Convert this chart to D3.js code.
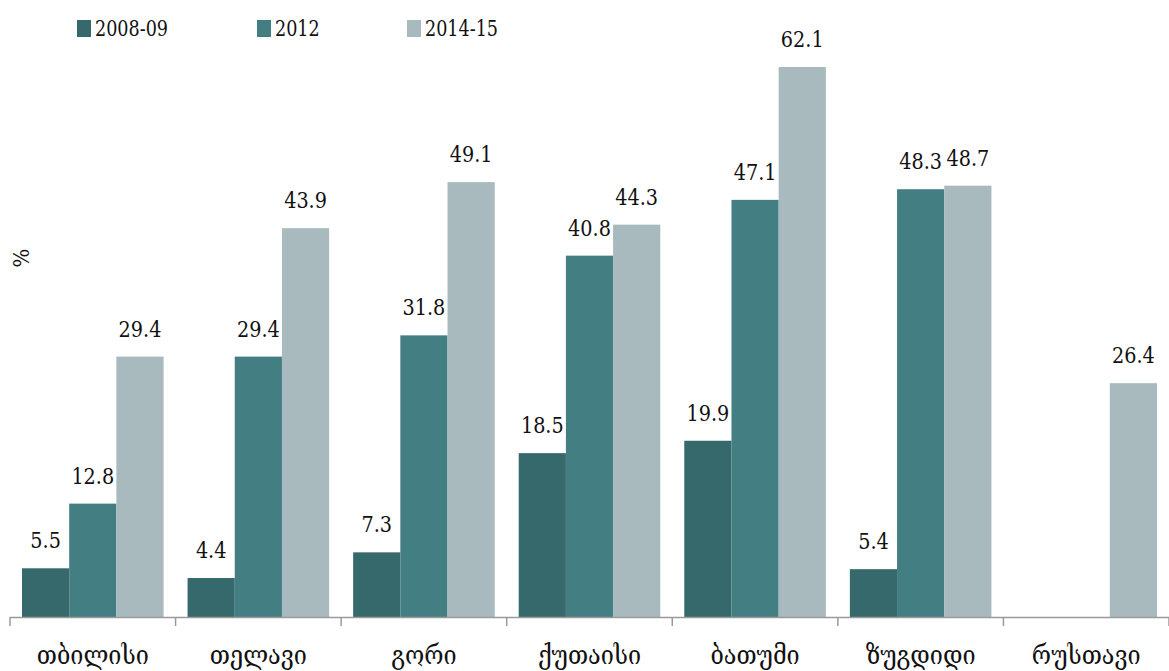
<!DOCTYPE html>
<html>
<head>
<meta charset="utf-8">
<script src="https://cdn.jsdelivr.net/npm/d3@7"></script>
<style>
  body { margin: 0; background: #fff; }
</style>
</head>
<body>
<div id="chart"></div>
<script>
// data
var cities = ["თბილისი", "თელავი", "გორი", "ქუთაისი", "ბათუმი", "ზუგდიდი", "რუსთავი"];
var seriesNames = ["2008-09", "2012", "2014-15"];
var v2008 = [5.5, 4.4, 7.3, 18.5, 19.9, 5.4, null];
var v2012 = [12.8, 29.4, 31.8, 40.8, 47.1, 48.3, null];
var v2014 = [29.4, 43.9, 49.1, 44.3, 62.1, 48.7, 26.4];
var colors = ["#36696b", "#437e83", "#a8babd"];

var W = 1169, H = 671;
var FONT = "'DejaVu Serif Condensed', 'DejaVu Serif', serif";
var svg = d3.select("#chart").append("svg").attr("width", W).attr("height", H);

var x0 = d3.scaleBand().domain(cities).range([10, 1169]).padding(0);
var x1 = d3.scaleBand().domain(seriesNames).range([12, x0.bandwidth() - 12]).padding(0);
var y = d3.scaleLinear().domain([0, 62.1]).range([617, 67]);

var series = [v2008, v2012, v2014];

// text placed at (x,y), squeezed a bit horizontally to look like the narrow serif in the original
function label(parent, x, y, size, sx) {
  return parent.append("text")
    .attr("transform", "translate(" + x + "," + y + ") scale(" + sx + ",1)")
    .style("font-family", FONT)
    .style("font-stretch", "condensed")
    .style("font-size", size + "px")
    .attr("fill", "#111");
}

var g = svg.append("g");
cities.forEach(function(c, i) {
  var grp = g.append("g").attr("transform", "translate(" + x0(c) + ",0)");
  series.forEach(function(s, k) {
    var v = s[i];
    if (v == null) return;
    grp.append("rect")
      .attr("x", x1(seriesNames[k]))
      .attr("y", y(v))
      .attr("width", x1.bandwidth())
      .attr("height", y(0) - y(v))
      .attr("fill", colors[k]);
    label(grp, x1(seriesNames[k]) + x1.bandwidth() / 2, y(v) - 20, 23, 0.93)
      .attr("text-anchor", "middle")
      .text(v.toFixed(1));
  });
});

// x axis with ticks between groups
var axis = svg.append("g");
axis.append("line")
  .attr("x1", 10).attr("x2", W).attr("y1", 617.5).attr("y2", 617.5)
  .attr("stroke", "#9a9a9a").attr("stroke-width", 1.5);
cities.concat([null]).forEach(function(c) {
  var xx = c ? x0(c) : x0.range()[1];
  axis.append("line")
    .attr("x1", xx).attr("x2", xx).attr("y1", 617).attr("y2", 626)
    .attr("stroke", "#9a9a9a").attr("stroke-width", 1.5);
});
cities.forEach(function(c) {
  label(axis, x0(c) + x0.bandwidth() / 2, 664, 26, 1)
    .attr("text-anchor", "middle")
    .text(c);
});

// y label
svg.append("text")
  .attr("transform", "translate(29,258) rotate(-90)")
  .attr("text-anchor", "middle")
  .style("font-family", FONT)
  .style("font-size", "22px")
  .attr("fill", "#111")
  .text("%");

// legend
var legX = [77, 257, 407];
seriesNames.forEach(function(n, k) {
  svg.append("rect").attr("x", legX[k]).attr("y", 20).attr("width", 14).attr("height", 17)
    .attr("fill", colors[k]);
  label(svg, legX[k] + 18, 36, 23, 0.85).text(n);
});
</script>
</body>
</html>
